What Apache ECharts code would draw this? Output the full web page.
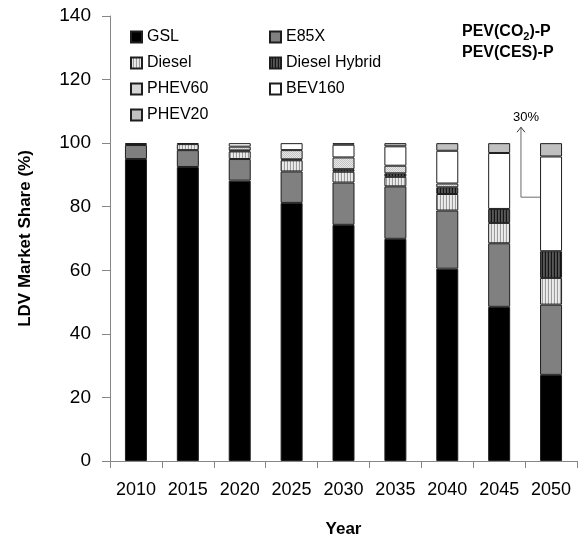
<!DOCTYPE html>
<html>
<head>
<meta charset="utf-8">
<script src="https://cdn.jsdelivr.net/npm/echarts@6/dist/echarts.min.js"></script>
<style>
  html, body { margin: 0; padding: 0; background: #fff; }
  #main { width: 588px; height: 543px; }
</style>
</head>
<body>
<div id="main"></div>
<script>
// data (market share in %)
var years = ['2010', '2015', '2020', '2025', '2030', '2035', '2040', '2045', '2050']
var gsl = [95.0, 92.5, 88.2, 81.2, 74.3, 69.9, 60.5, 48.5, 27.1]
var e85x = [4.4, 5.3, 6.8, 9.9, 13.3, 16.5, 18.3, 20.0, 22.1]
var diesel = [0.3, 1.9, 2.4, 3.5, 3.4, 3.0, 5.2, 6.4, 8.4]
var dieselHybrid = [0.3, 0, 0.3, 0.3, 0.8, 1.1, 2.1, 4.4, 8.4]
var phev60 = [0, 0.3, 1.2, 2.9, 3.7, 2.4, 1.2, 0, 0]
var bev160 = [0, 0, 1.1, 2.2, 4.0, 6.1, 10.3, 17.6, 29.8]
var phev20 = [0, 0, 0, 0, 0.5, 1.0, 2.4, 3.1, 4.2]
var yTicks = [0, 20, 40, 60, 80, 100, 120, 140]

// annotation on the 2050 BEV share
var noteText = '30%'
var noteY = 83
var noteTopY = 105

var FONT = 'Liberation Sans'

// small canvas patterns for the hatched fills
function pattern(w, h, cols) {
  var c = document.createElement('canvas')
  c.width = w
  c.height = h
  var ctx = c.getContext('2d')
  for (var y = 0; y < h; y++) {
    for (var x = 0; x < w; x++) {
      ctx.fillStyle = cols[y][x]
      ctx.fillRect(x, y, 1, 1)
    }
  }
  return { image: c, repeat: 'repeat' }
}

var dieselFill = pattern(3, 1, [['#ececec', '#e4e4e4', '#9c9c9c']])
var hybridFill = pattern(3, 1, [['#585858', '#4c4c4c', '#141414']])
var phev60Fill = pattern(2, 2, [['#c4c4c4', '#e8e8e8'], ['#e8e8e8', '#c4c4c4']])

var seriesDefs = [
  { name: 'GSL', data: gsl, color: '#000000' },
  { name: 'E85X', data: e85x, color: '#808080' },
  { name: 'Diesel', data: diesel, color: dieselFill },
  { name: 'Diesel Hybrid', data: dieselHybrid, color: hybridFill },
  { name: 'PHEV60', data: phev60, color: phev60Fill },
  { name: 'BEV160', data: bev160, color: '#ffffff' },
  { name: 'PHEV20', data: phev20, color: '#c0c0c0' }
]

var chart = echarts.init(document.getElementById('main'))

var legendText = { fontFamily: FONT, fontSize: 16, color: '#000' }

chart.setOption({
  animation: false,
  textStyle: { fontFamily: FONT },
  grid: { left: 110, right: 11, top: 16, bottom: 80 },
  legend: [
    {
      orient: 'vertical', left: 125, top: 24, itemWidth: 11, itemHeight: 11, itemGap: 10,
      icon: 'rect', textStyle: legendText, selectedMode: false,
      data: ['GSL', 'Diesel', 'PHEV60', 'PHEV20']
    },
    {
      orient: 'vertical', left: 264, top: 24, itemWidth: 11, itemHeight: 11, itemGap: 10,
      icon: 'rect', textStyle: legendText, selectedMode: false,
      data: ['E85X', 'Diesel Hybrid', 'BEV160']
    }
  ],
  xAxis: {
    type: 'category',
    data: years,
    name: 'Year',
    nameLocation: 'middle',
    nameGap: 60,
    nameTextStyle: { fontFamily: FONT, fontSize: 17, fontWeight: 'bold', color: '#000' },
    axisLine: { lineStyle: { color: '#868686', width: 1 } },
    axisTick: { show: true, interval: 0, length: 7, lineStyle: { color: '#868686' } },
    axisLabel: { interval: 0, fontFamily: FONT, fontSize: 18, color: '#000', margin: 20 }
  },
  yAxis: {
    type: 'value',
    min: yTicks[0],
    max: yTicks[yTicks.length - 1],
    interval: 20,
    name: 'LDV Market Share (%)',
    nameLocation: 'middle',
    nameGap: 76,
    nameTextStyle: { fontFamily: FONT, fontSize: 17, fontWeight: 'bold', color: '#000' },
    splitLine: { show: false },
    axisLine: { show: true, lineStyle: { color: '#868686', width: 1 } },
    axisTick: { show: true, length: 8, lineStyle: { color: '#868686' } },
    axisLabel: { fontFamily: FONT, fontSize: 19, color: '#000', margin: 19 }
  },
  series: seriesDefs.map(function (s) {
    return {
      name: s.name,
      type: 'bar',
      stack: 'total',
      barWidth: 22,
      data: s.data.map(function (v) { return v === 0 ? null : v }),
      itemStyle: { color: s.color, borderColor: '#1e1e1e', borderWidth: 1 }
    }
  })
})

// annotation text, arrow and the top-right scenario labels
function drawNotes() {
  var x45 = chart.convertToPixel({ xAxisIndex: 0 }, '2045')
  var x50 = chart.convertToPixel({ xAxisIndex: 0 }, '2050')
  var step = x50 - x45
  var ax = x50 - step * 0.58
  var barLeft = x50 - 11
  var yMid = chart.convertToPixel({ yAxisIndex: 0 }, noteY)
  var yTop = chart.convertToPixel({ yAxisIndex: 0 }, noteTopY)
  chart.setOption({
    graphic: [
      {
        type: 'polyline',
        shape: { points: [[ax, yTop], [ax, yMid], [barLeft, yMid]] },
        style: { stroke: '#6b6b6b', lineWidth: 1, fill: null }
      },
      {
        type: 'polyline',
        shape: { points: [[ax - 4, yTop + 5], [ax, yTop], [ax + 4, yTop + 5]] },
        style: { stroke: '#333', lineWidth: 1, fill: null }
      },
      {
        type: 'text',
        x: ax + 5, y: yTop - 10,
        style: { text: noteText, font: '13px ' + FONT, fill: '#000', align: 'center', verticalAlign: 'middle' }
      },
      {
        type: 'text',
        x: 462, y: 30,
        style: {
          text: '{b|PEV(CO}{s|2}{b|)-P}',
          verticalAlign: 'middle',
          rich: {
            b: { fontFamily: FONT, fontSize: 16, fontWeight: 'bold', fill: '#000', lineHeight: 19, verticalAlign: 'bottom' },
            s: { fontFamily: FONT, fontSize: 11, fontWeight: 'bold', fill: '#000', lineHeight: 14, verticalAlign: 'bottom', padding: [0, 0, -3, 0] }
          }
        }
      },
      {
        type: 'text',
        x: 462, y: 53,
        style: { text: 'PEV(CES)-P', font: 'bold 16px ' + FONT, fill: '#000', verticalAlign: 'middle' }
      }
    ]
  })
}
drawNotes()
</script>
</body>
</html>
